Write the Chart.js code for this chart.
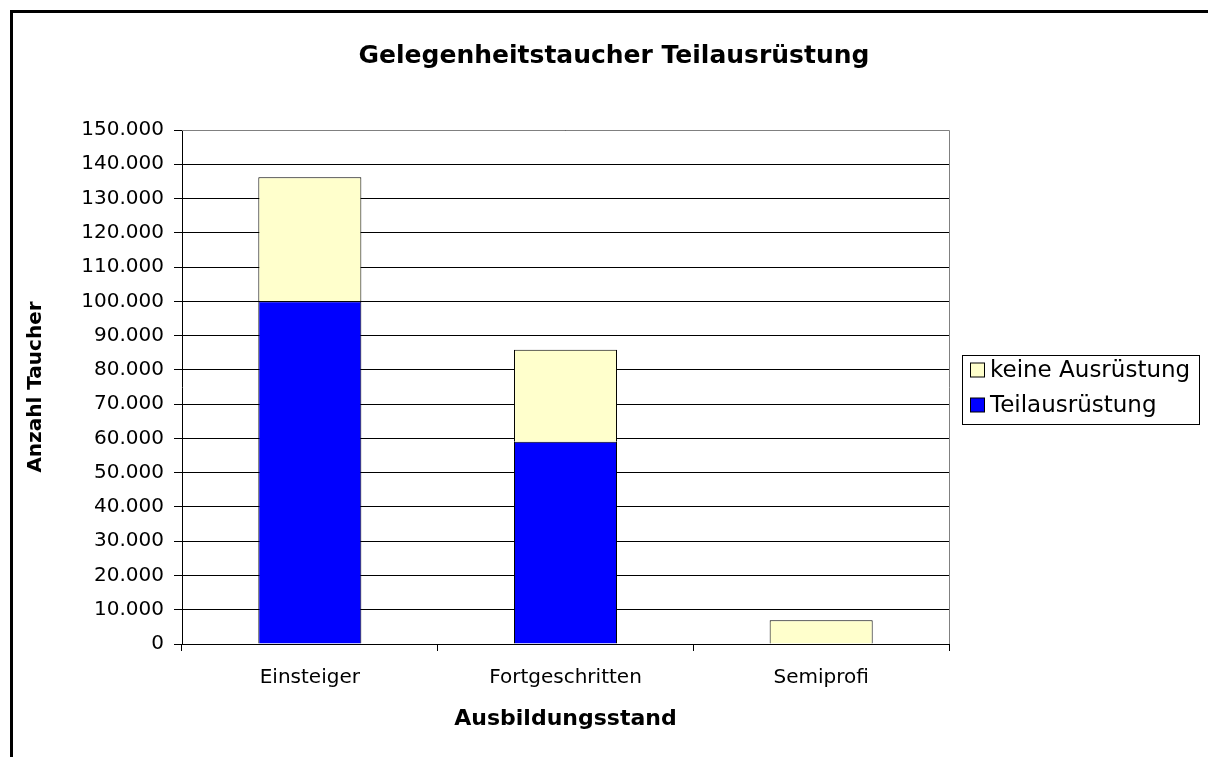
<!DOCTYPE html>
<html>
<head>
<meta charset="utf-8">
<script src="https://cdn.jsdelivr.net/npm/chart.js@4/dist/chart.umd.min.js"></script>
<style>
  html, body { margin: 0; padding: 0; background: #fff; }
  #wrap { width: 1208px; height: 757px; }
</style>
</head>
<body>
<div id="wrap"><canvas id="divers" width="1208" height="757"></canvas></div>
<script>
// Gelegenheitstaucher nach Ausbildungsstand
const categories = ['Einsteiger', 'Fortgeschritten', 'Semiprofi'];
const teilAusruestung = [100000, 59000, 0];
const keineAusruestung = [36200, 26900, 6900];
const seriesNames = ['Teilausrüstung', 'keine Ausrüstung'];
const seriesColors = ['#0000FF', '#FFFFCC'];
const yMax = 150000;
const yStep = 10000;

const FONT = "'DejaVu Sans', sans-serif";

function formatDE(v) {
    return String(v).replace(/\B(?=(\d{3})+(?!\d))/g, '.');
}

// outer frame + grey top/right plot border
const framePlugin = {
    id: 'frame',
    beforeDraw(chart) {
        const ctx = chart.ctx;
        ctx.save();
        ctx.fillStyle = '#fff';
        ctx.fillRect(0, 0, chart.width, chart.height);
        ctx.strokeStyle = '#000';
        ctx.lineWidth = 3;
        ctx.strokeRect(11.5, 11.5, chart.width + 20, chart.height + 20);
        ctx.restore();
    },
    beforeDatasetsDraw(chart) {
        const a = chart.chartArea;
        const ctx = chart.ctx;
        ctx.save();
        ctx.strokeStyle = '#808080';
        ctx.lineWidth = 1;
        ctx.beginPath();
        ctx.moveTo(a.left, Math.round(a.top) + 0.5);
        ctx.lineTo(Math.round(a.right) + 0.5, Math.round(a.top) + 0.5);
        ctx.lineTo(Math.round(a.right) + 0.5, a.bottom);
        ctx.stroke();
        ctx.restore();
    }
};

// boxed legend on the right, top series first
const boxLegend = {
    id: 'boxLegend',
    afterDraw(chart) {
        const ctx = chart.ctx;
        const x = 962.5, y = 355.5, w = 237, h = 69;
        ctx.save();
        ctx.strokeStyle = '#000';
        ctx.lineWidth = 1;
        ctx.strokeRect(x, y, w, h);
        ctx.font = '23px ' + FONT;
        ctx.textBaseline = 'middle';
        const order = [1, 0];
        order.forEach((idx, i) => {
            const cy = 370 + i * 35;
            ctx.fillStyle = seriesColors[idx];
            ctx.fillRect(970.5, cy - 7, 14, 14);
            ctx.strokeStyle = '#000';
            ctx.strokeRect(970.5, cy - 7, 14, 14);
            ctx.fillStyle = '#000';
            ctx.fillText(seriesNames[idx], 990, cy + 1);
        });
        ctx.restore();
    }
};

new Chart(document.getElementById('divers').getContext('2d'), {
    type: 'bar',
    data: {
        labels: categories,
        datasets: [
            {
                label: seriesNames[0],
                data: teilAusruestung,
                backgroundColor: seriesColors[0],
                borderColor: '#000',
                borderWidth: 1,
            },
            {
                label: seriesNames[1],
                data: keineAusruestung,
                backgroundColor: seriesColors[1],
                borderColor: '#000',
                borderWidth: 1,
            },
        ],
    },
    options: {
        responsive: false,
        animation: false,
        layout: { padding: { top: 0, left: 20, right: 0, bottom: 25 } },
        datasets: { bar: { categoryPercentage: 1, barPercentage: 0.403 } },
        plugins: {
            legend: { display: false },
            tooltip: { enabled: false },
            title: {
                display: true,
                text: 'Gelegenheitstaucher Teilausrüstung',
                color: '#000',
                font: { family: FONT, size: 25, weight: 'bold' },
                padding: { top: 41, bottom: 59 },
            },
        },
        scales: {
            x: {
                stacked: true,
                afterFit: s => { s.height = 88; },
                grid: { drawOnChartArea: false, color: '#000', tickLength: 7 },
                border: { color: '#000' },
                ticks: { color: '#000', font: { family: FONT, size: 20 }, padding: 15 },
                title: {
                    display: true,
                    text: 'Ausbildungsstand',
                    color: '#000',
                    font: { family: FONT, size: 22, weight: 'bold' },
                    padding: 0,
                },
            },
            y: {
                stacked: true,
                min: 0,
                max: yMax,
                afterFit: s => { s.width = 162; },
                grid: { color: '#000', tickLength: 8 },
                border: { color: '#000' },
                ticks: {
                    stepSize: yStep,
                    color: '#000',
                    padding: 10,
                    font: { family: FONT, size: 20 },
                    callback: v => formatDE(v),
                },
                title: {
                    display: true,
                    text: 'Anzahl Taucher',
                    color: '#000',
                    font: { family: FONT, size: 20, weight: 'bold' },
                    padding: 4,
                },
            },
            // empty right-hand box that keeps room for the legend
            legendSpace: {
                type: 'linear',
                position: 'right',
                afterFit: s => { s.width = 259; },
                grid: { display: false },
                border: { display: false },
                ticks: { display: false },
            },
        },
    },
    plugins: [framePlugin, boxLegend],
});
</script>
</body>
</html>
